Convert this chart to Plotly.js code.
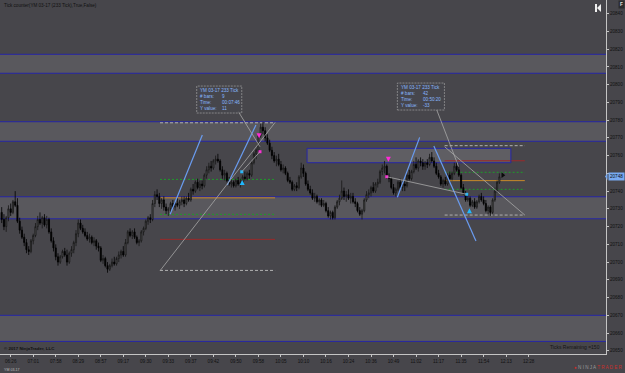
<!DOCTYPE html>
<html>
<head>
<meta charset="utf-8">
<script src="https://cdn.plot.ly/plotly-3.0.1.min.js"></script>
<style>html,body{margin:0;padding:0;background:#47464b;}#chart{width:625px;height:373px;}</style>
</head>
<body>
<div id="chart"></div>
<script>
// ---- data (YM 03-17, 233 tick bars) ----
const open = [
20728,20724,20720,20725,20730,20728,20734,20732,20723,20718,
20714,20711,20707,20706,20712,20715,20720,20724,20722,20725,
20721,20724,20717,20712,20708,20703,20700,20703,20706,20704,
20700,20705,20707,20711,20716,20722,20719,20717,20715,20713,
20714,20711,20712,20709,20708,20701,20702,20698,20696,20698,
20700,20699,20702,20704,20706,20704,20711,20717,20715,20717,
20714,20711,20712,20717,20719,20723,20725,20724,20733,20738,
20737,20733,20735,20731,20729,20730,20733,20731,20733,20732,
20734,20735,20733,20736,20735,20741,20740,20745,20742,20744,
20743,20749,20752,20754,20753,20757,20758,20757,20752,20749,
20750,20746,20744,20745,20743,20746,20744,20745,20748,20747,
20750,20749,20756,20761,20763,20771,20776,20774,20770,20767,
20763,20760,20757,20758,20755,20752,20753,20750,20746,20745,
20741,20743,20742,20748,20753,20750,20744,20741,20739,20736,
20737,20734,20735,20732,20733,20729,20726,20728,20725,20731,
20734,20736,20740,20737,20738,20736,20737,20734,20733,20729,
20727,20729,20735,20738,20739,20742,20740,20744,20745,20751,
20753,20754,20748,20747,20742,20739,20741,20745,20742,20744,
20743,20749,20747,20751,20755,20753,20757,20756,20754,20756,
20755,20759,20757,20754,20750,20748,20744,20746,20744,20749,
20747,20750,20754,20752,20749,20742,20739,20735,20736,20732,
20734,20731,20734,20737,20735,20733,20729,20731,20728,20735,
20740,20745];
const high = [
20731,20727,20726,20732,20733,20735,20740,20736,20725,20720,
20716,20713,20709,20713,20716,20722,20726,20728,20726,20727,
20726,20725,20719,20714,20710,20705,20704,20707,20708,20707,
20706,20709,20712,20718,20724,20724,20721,20719,20717,20716,
20715,20714,20713,20711,20709,20704,20703,20700,20699,20702,
20703,20703,20706,20707,20709,20713,20718,20719,20718,20719,
20715,20713,20718,20720,20724,20726,20727,20735,20740,20741,
20739,20736,20737,20733,20731,20734,20735,20734,20736,20735,
20737,20737,20737,20739,20742,20744,20746,20747,20746,20746,
20750,20754,20756,20757,20758,20760,20761,20758,20754,20752,
20751,20748,20747,20746,20747,20748,20747,20749,20751,20751,
20752,20757,20762,20764,20772,20778,20779,20776,20772,20769,
20765,20762,20760,20761,20757,20755,20754,20751,20748,20746,
20744,20745,20749,20756,20755,20751,20746,20743,20741,20739,
20738,20736,20736,20735,20734,20731,20729,20729,20732,20735,
20738,20746,20742,20740,20741,20739,20739,20736,20734,20731,
20730,20736,20740,20741,20743,20745,20745,20747,20752,20755,
20757,20755,20750,20748,20744,20742,20746,20747,20746,20746,
20750,20752,20752,20757,20759,20758,20759,20758,20757,20758,
20761,20762,20759,20756,20752,20749,20747,20748,20750,20751,
20751,20756,20757,20755,20750,20744,20740,20738,20737,20735,
20736,20735,20738,20739,20737,20735,20732,20732,20736,20742,
20746,20750];
const low = [
20722,20718,20717,20723,20726,20727,20731,20722,20716,20713,
20709,20705,20704,20705,20710,20714,20718,20721,20719,20720,
20719,20716,20711,20706,20701,20698,20699,20702,20703,20698,
20699,20703,20705,20709,20714,20718,20716,20714,20712,20711,
20710,20709,20707,20706,20700,20699,20697,20694,20695,20697,
20698,20698,20700,20702,20703,20703,20710,20714,20713,20713,
20710,20709,20711,20715,20718,20721,20722,20723,20731,20735,
20731,20730,20729,20727,20726,20728,20730,20729,20731,20730,
20732,20731,20732,20734,20734,20738,20739,20741,20740,20741,
20742,20747,20750,20751,20752,20755,20756,20751,20747,20746,
20745,20743,20742,20742,20742,20743,20742,20744,20746,20746,
20747,20748,20755,20758,20762,20770,20772,20768,20766,20762,
20758,20756,20754,20754,20751,20750,20749,20745,20744,20740,
20740,20740,20741,20747,20748,20743,20740,20738,20735,20734,
20733,20732,20731,20731,20728,20725,20724,20724,20724,20730,
20732,20735,20735,20734,20735,20733,20733,20731,20728,20726,
20724,20728,20734,20736,20737,20739,20739,20742,20744,20749,
20750,20747,20745,20741,20738,20737,20740,20741,20740,20740,
20742,20746,20746,20750,20752,20751,20754,20752,20752,20753,
20754,20756,20753,20749,20747,20743,20742,20743,20743,20746,
20746,20749,20751,20748,20741,20738,20734,20734,20731,20731,
20730,20730,20733,20734,20732,20728,20727,20726,20727,20734,
20739,20744];
const close = [
20724,20720,20725,20730,20728,20734,20732,20723,20718,20714,
20711,20707,20706,20712,20715,20720,20724,20722,20725,20721,
20724,20717,20712,20708,20703,20700,20703,20706,20704,20700,
20705,20707,20711,20716,20722,20719,20717,20715,20713,20714,
20711,20712,20709,20708,20701,20702,20698,20696,20698,20700,
20699,20702,20704,20706,20704,20711,20717,20715,20717,20714,
20711,20712,20717,20719,20723,20725,20724,20733,20738,20737,
20733,20735,20731,20729,20730,20733,20731,20733,20732,20734,
20735,20733,20736,20735,20741,20740,20745,20742,20744,20743,
20749,20752,20754,20753,20757,20758,20757,20752,20749,20750,
20746,20744,20745,20743,20746,20744,20745,20748,20747,20750,
20749,20756,20761,20763,20771,20776,20774,20770,20767,20763,
20760,20757,20758,20755,20752,20753,20750,20746,20745,20741,
20743,20742,20748,20753,20750,20744,20741,20739,20736,20737,
20734,20735,20732,20733,20729,20726,20728,20725,20731,20734,
20736,20740,20737,20738,20736,20737,20734,20733,20729,20727,
20729,20735,20738,20739,20742,20740,20744,20745,20751,20753,
20754,20748,20747,20742,20739,20741,20745,20742,20744,20743,
20749,20747,20751,20755,20753,20757,20756,20754,20756,20755,
20759,20757,20754,20750,20748,20744,20746,20744,20749,20747,
20750,20754,20752,20749,20742,20739,20735,20736,20732,20734,
20731,20734,20737,20735,20733,20729,20731,20728,20735,20740,
20745,20748];

const tickLabels = ['06:26','07:01','07:58','08:29','08:57','09:17','09:30','09:33','09:37','09:42','09:50','09:58',
                    '10:05','10:10','10:16','10:24','10:36','10:49','11:02','11:17','11:35','11:54','12:13','12:28'];
const priceTicks = [20650,20660,20670,20680,20690,20700,20710,20720,20730,20740,20750,20760,20770,20780,20790,
                    20800,20810,20820,20830,20840];
const lastPrice = 20748;

// zones (price bottom, top)
const zones = [[20806.4,20817.1],[20768.1,20779.1],[20724.4,20736.8],[20655.3,20670.0]];
// fibonacci drawings: bar span and price levels (bottom -> top)
const fibLeftBars = [71.3,122.4];
const fibLeftLevels = [20695.3,20712.8,20726.9,20736.2,20746.6,20778.5];
const fibRightBars = [197.7,233.3];
const fibRightLevels = [20726.5,20741.0,20745.9,20750.6,20757.1,20765.6];
// rectangle [bar0, price0, bar1, price1]
const rectZone = [136.6,20756.0,227.1,20764.1];
// trend lines [bar0, price0, bar1, price1]
const blueLines = [[75.8,20726.9,90.1,20771.6],[101.2,20743.4,113.9,20777.3],[176.7,20736.5,186.6,20770.3],[192.9,20765.4,211.6,20711.9]];
const greyLines = [[71.3,20695.1,122.4,20778.7],[107.6,20750.9,115.7,20762.2],[106.1,20784.8,115.7,20765.0],
                   [172.0,20748.1,207.5,20738.2],[194.2,20785.7,203.9,20753.8],[197.7,20765.0,233.3,20726.5]];
// ruler tooltips
const tipLabels = ['YM 03-17 233 Tick','# bars:','Time:','Y value:'];
const tip1Values = ['9','00:07:46','11'];
const tip2Values = ['42','00:50:20','-33'];
const tip1Box = [87.6,20784.0,107.6,20799.2];
const tip2Box = [176.7,20785.7,197.6,20800.9];
// signal markers
const sellArrowX = [115.3,172.7], sellArrowY = [20769.8,20756.6];
const buyArrowX = [107.8,208.7], buyArrowY = [20746.3,20730.3];
const magDotX = [115.7,172.0], magDotY = [20762.2,20748.1];
const cyanDotX = [107.6,207.5], cyanDotY = [20750.9,20738.2];
const execX = [223.5], execY = [20749];

// ---- build ----
const idx = close.map((_, i) => i + 1);
const tickPos = tickLabels.map((_, k) => 5 + 10 * k);
const priceText = priceTicks.map(v => v === 20750 ? '' : String(v));

const BG = '#47464b', BAND = '#59585d', NAVY = '#2626a6', LBLUE = '#6a9cf0', GREY = '#b0b0b0';
const FONT = 'Liberation Sans, Arial, sans-serif';

const shapes = [];
zones.forEach(z => shapes.push({type:'rect', xref:'paper', yref:'y', x0:0, x1:1, y0:z[0], y1:z[1],
  fillcolor:BAND, line:{width:0}, layer:'below'}));
shapes.push({type:'rect', xref:'x', yref:'y', x0:rectZone[0], y0:rectZone[1], x1:rectZone[2], y1:rectZone[3],
  fillcolor:'#5f5e63', line:{width:0}, layer:'below'});
zones.forEach(z => z.forEach(p => shapes.push({type:'line', xref:'paper', yref:'y', x0:0, x1:1, y0:p, y1:p,
  line:{color:NAVY, width:1}, layer:'below'})));

const GD = '2px,2px', GRD = '3px,2px';
const fibLeftStyle = [[GREY,GRD],['#9a2a2a','solid'],['#1f9a2a',GD],['#c98a2a','solid'],['#1f9a2a',GD],[GREY,GRD]];
const fibRightStyle = [[GREY,GRD],['#1f9a2a',GD],['#c98a2a','solid'],['#1f9a2a',GD],['#9a2a2a','solid'],[GREY,GRD]];
fibLeftLevels.forEach((p, k) => shapes.push({type:'line', xref:'x', yref:'y', x0:fibLeftBars[0], x1:fibLeftBars[1], y0:p, y1:p,
  line:{color:fibLeftStyle[k][0], width:1, dash:fibLeftStyle[k][1]}, layer:'below'}));
fibRightLevels.forEach((p, k) => shapes.push({type:'line', xref:'x', yref:'y', x0:fibRightBars[0], x1:fibRightBars[1], y0:p, y1:p,
  line:{color:fibRightStyle[k][0], width:1, dash:fibRightStyle[k][1]}, layer:'below'}));
shapes.push({type:'rect', xref:'x', yref:'y', x0:rectZone[0], y0:rectZone[1], x1:rectZone[2], y1:rectZone[3],
  fillcolor:'rgba(0,0,0,0)', line:{color:NAVY, width:1}, layer:'below'});

blueLines.forEach(l => shapes.push({type:'line', xref:'x', yref:'y', x0:l[0], y0:l[1], x1:l[2], y1:l[3],
  line:{color:LBLUE, width:1.2}, layer:'above'}));
greyLines.forEach(l => shapes.push({type:'line', xref:'x', yref:'y', x0:l[0], y0:l[1], x1:l[2], y1:l[3],
  line:{color:'#a8a8a8', width:0.8}, layer:'above'}));
[tip1Box, tip2Box].forEach(b => shapes.push({type:'rect', xref:'x', yref:'y', x0:b[0], y0:b[1], x1:b[2], y1:b[3],
  fillcolor:'rgba(70,70,76,0.6)', line:{color:'#a0a0a0', width:0.7, dash:'2px,1px'}, layer:'above'}));

// icon at top-right (skip-to-start) and price flag pointer
const pw = 606, ph = 354;
const px = v => v / pw, py = v => 1 - v / ph;
shapes.push({type:'rect', xref:'paper', yref:'paper', x0:px(595), x1:px(597), y0:py(12), y1:py(4), fillcolor:'#f0f0f0', line:{width:0}});
shapes.push({type:'path', xref:'paper', yref:'paper', path:`M ${px(597)} ${py(8)} L ${px(601)} ${py(4)} L ${px(601)} ${py(12)} Z`, fillcolor:'#f0f0f0', line:{width:0}});
shapes.push({type:'path', xref:'paper', yref:'paper', path:`M ${px(605)} ${py(176.5)} L ${px(607.5)} ${py(173)} L ${px(607.5)} ${py(180)} Z`, fillcolor:'#78aaf2', line:{width:0}});

const ann = [];
function tip(box, values) {
  ann.push({xref:'x', yref:'y', x:box[0] + 0.7, y:box[3], xanchor:'left', yanchor:'top', align:'left', showarrow:false,
    text:tipLabels.join('<br>'), font:{family:FONT, size:4.6, color:'#86b6ff'}});
  ann.push({xref:'x', yref:'y', x:box[0] + 10.3, y:box[3], xanchor:'left', yanchor:'top', align:'left', showarrow:false,
    text:'&nbsp;<br>' + values.join('<br>'), font:{family:FONT, size:4.6, color:'#86b6ff'}});
}
tip(tip1Box, tip1Values);
tip(tip2Box, tip2Values);

ann.push({xref:'paper', yref:'paper', x:px(2), y:py(5.7), xanchor:'left', yanchor:'middle', showarrow:false,
  text:'Tick counter(YM 03-17 (233 Tick),True,False)', font:{family:FONT, size:4.6, color:'#111'}});
ann.push({xref:'paper', yref:'paper', x:px(2), y:py(348), xanchor:'left', yanchor:'middle', showarrow:false,
  text:'<b>© 2017 NinjaTrader, LLC</b>', font:{family:FONT, size:4.4, color:'#111'}});
ann.push({xref:'paper', yref:'paper', x:px(602), y:py(346.7), xanchor:'right', yanchor:'middle', showarrow:false,
  text:'Ticks Remaining =150', font:{family:FONT, size:5, color:'#151515'}});
ann.push({xref:'paper', yref:'paper', x:px(2), y:py(370), xanchor:'left', yanchor:'middle', showarrow:false,
  text:'YM 03-17', font:{family:FONT, size:3.6, color:'#bdbdbd'}});
ann.push({xref:'paper', yref:'paper', x:px(625), y:py(367), xanchor:'right', yanchor:'middle', showarrow:false,
  text:'<span style="color:#c8302c">●</span> <span style="color:#9a9a9a">N I N J A </span><span style="color:#c8302c">T R A D E R</span>',
  font:{family:FONT, size:4.6, color:'#9a9a9a'}});
ann.push({xref:'paper', yref:'paper', x:px(621), y:py(4.5), xanchor:'center', yanchor:'middle', showarrow:false,
  text:'<b>F</b>', bgcolor:'#2c2c2e', borderpad:1, font:{family:FONT, size:4.6, color:'#e0e0e0'}});
ann.push({xref:'paper', yref:'y', x:px(607.5), y:lastPrice, xanchor:'left', yanchor:'middle', showarrow:false,
  text:String(lastPrice), bgcolor:'#78aaf2', borderpad:1, font:{family:FONT, size:4.6, color:'#0a0a0a'}});

const traces = [
  {type:'candlestick', x:idx, open:open, high:high, low:low, close:close, hoverinfo:'skip', whiskerwidth:0,
   increasing:{line:{color:'#161616', width:0.8}, fillcolor:'#616161'},
   decreasing:{line:{color:'#000000', width:0.8}, fillcolor:'#000000'}},
  {type:'scatter', mode:'markers', x:sellArrowX, y:sellArrowY, hoverinfo:'skip',
   marker:{symbol:'arrow-down', size:5, color:'#ff2bd6', line:{width:0}}},
  {type:'scatter', mode:'markers', x:buyArrowX, y:buyArrowY, hoverinfo:'skip',
   marker:{symbol:'arrow-up', size:5, color:'#1fb8ff', line:{width:0}}},
  {type:'scatter', mode:'markers', x:magDotX, y:magDotY, hoverinfo:'skip',
   marker:{symbol:'square', size:3, color:'#ff2bd6', line:{width:0}}},
  {type:'scatter', mode:'markers', x:cyanDotX, y:cyanDotY, hoverinfo:'skip',
   marker:{symbol:'square', size:3, color:'#1fb8ff', line:{width:0}}},
  {type:'scatter', mode:'markers', x:execX, y:execY, hoverinfo:'skip',
   marker:{symbol:'triangle-right', size:5, color:'#0a0a0a', line:{width:0}}}
];

const layout = {
  width:625, height:373,
  margin:{l:0, r:19, t:0, b:19, pad:0},
  paper_bgcolor:BG, plot_bgcolor:BG,
  showlegend:false, hovermode:false, dragmode:false,
  xaxis:{range:[0.25,269.35], tickmode:'array', tickvals:tickPos, ticktext:tickLabels,
    ticks:'outside', ticklen:2, tickcolor:'#c4c4c4', showline:true, linecolor:'#c4c4c4', linewidth:1,
    showgrid:false, zeroline:false, rangeslider:{visible:false}, fixedrange:true,
    tickfont:{family:FONT, size:4.6, color:'#111'}},
  yaxis:{side:'right', range:[20648.2,20847.7], tickmode:'array', tickvals:priceTicks, ticktext:priceText,
    ticks:'outside', ticklen:2, tickcolor:'#c4c4c4', showline:true, linecolor:'#c4c4c4', linewidth:1,
    showgrid:false, zeroline:false, fixedrange:true,
    tickfont:{family:FONT, size:4.6, color:'#111'}},
  shapes:shapes, annotations:ann
};

Plotly.newPlot('chart', traces, layout, {displayModeBar:false, staticPlot:true});
</script>
</body>
</html>
